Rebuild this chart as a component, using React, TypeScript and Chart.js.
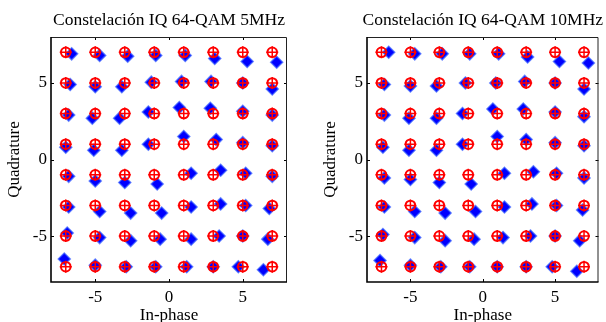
import React, { useEffect, useRef } from 'react';
import { Chart, registerables } from 'chart.js';
Chart.register(...registerables);

// Ideal 64-QAM levels (I columns, Q rows from top to bottom)
const levelsI = [-7, -5, -3, -1, 1, 3, 5, 7];
const levelsQ = [7, 5, 3, 1, -1, -3, -5, -7];
const xTicks = [-5, 0, 5];
const yTicks = [-5, 0, 5];

const title5 = 'Constelación IQ 64-QAM 5MHz';
const title10 = 'Constelación IQ 64-QAM 10MHz';
const xLabel = 'In-phase';
const yLabel = 'Quadrature';

// Offsets of received clusters from the ideal symbol (row-major: Q=7..-7, I=-7..7)
const offI5 = [
  0.4, 0.3, 0.2, 0.1, 0.1, 0.1, 0.3, 0.3,
  0.3, 0, -0.2, -0.2, -0.15, -0.15, 0, 0,
  0.2, -0.2, -0.35, -0.4, -0.3, -0.2, 0, 0,
  0, -0.1, -0.2, -0.4, 0, 0.2, 0, 0,
  0.2, 0, 0, 0.2, 0.5, 0.5, 0.2, 0,
  0.2, 0.3, 0.4, 0.5, 0.5, 0.5, 0.2, -0.2,
  0.1, 0.3, 0.4, 0.4, 0.5, 0.4, 0, -0.3,
  -0.1, 0, 0.1, 0.1, 0.2, 0, -0.3, -0.6,
];
const offQ5 = [
  -0.1, -0.2, -0.25, -0.2, -0.2, -0.4, -0.6, -0.65,
  -0.1, -0.25, -0.25, 0.05, 0.1, 0.1, 0, -0.4,
  -0.1, -0.3, -0.3, 0.1, 0.4, 0.35, 0.15, -0.1,
  -0.2, -0.4, -0.4, 0, 0.5, 0.3, 0.1, -0.1,
  -0.1, -0.4, -0.5, -0.6, 0.1, 0.3, 0.1, -0.1,
  -0.1, -0.4, -0.5, -0.5, -0.1, 0.1, 0, -0.2,
  0.2, -0.1, -0.3, -0.2, -0.2, 0, 0, -0.2,
  0.5, 0.1, 0, 0, 0, 0, 0, -0.2,
];
const offI10 = [
  0.5, 0.3, 0.2, 0.1, 0.1, 0.1, 0.3, 0.3,
  0.2, 0, -0.2, -0.2, -0.1, -0.1, 0, 0,
  0.2, -0.1, -0.2, -0.4, -0.3, -0.2, 0, 0,
  0.1, -0.1, -0.2, -0.4, 0, 0, 0, 0,
  0.2, 0, 0, 0.2, 0.5, 0.5, 0.1, 0,
  0.2, 0.3, 0.4, 0.5, 0.5, 0.4, 0.1, -0.1,
  0.1, 0.3, 0.4, 0.4, 0.4, 0.3, 0, -0.3,
  -0.1, 0, 0.1, 0.1, 0, 0, -0.2, -0.5,
];
const offQ10 = [
  0, -0.1, -0.1, -0.1, -0.1, -0.3, -0.6, -0.7,
  -0.1, -0.2, -0.2, 0, 0, 0.1, 0, -0.4,
  -0.1, -0.3, -0.3, 0, 0.3, 0.3, 0.1, -0.2,
  -0.2, -0.4, -0.4, 0, 0.5, 0.3, 0.1, -0.1,
  -0.2, -0.3, -0.5, -0.6, 0.1, 0.2, 0.1, -0.2,
  -0.1, -0.4, -0.5, -0.4, -0.1, 0.1, 0, -0.3,
  0.1, -0.1, -0.3, -0.2, -0.1, 0, 0, -0.3,
  0.4, 0.1, 0, 0, 0, 0, 0, -0.3,
];

const FONT = '"Liberation Serif", "Times New Roman", serif';

const framePlugin = {
  id: 'frame',
  afterDraw(chart: any, _args: any, opts: any) {
    const { ctx, chartArea: a, scales } = chart;
    ctx.save();
    ctx.strokeStyle = '#000';
    ctx.lineWidth = 1;
    ctx.beginPath();
    for (const v of xTicks) {
      const px = Math.round(scales.x.getPixelForValue(v)) + 0.5;
      ctx.moveTo(px, a.bottom);
      ctx.lineTo(px, a.bottom - 3);
      ctx.moveTo(px, a.top);
      ctx.lineTo(px, a.top + 3);
    }
    for (const v of yTicks) {
      const py = Math.round(scales.y.getPixelForValue(v)) + 0.5;
      ctx.moveTo(a.left, py);
      ctx.lineTo(a.left + 3, py);
      ctx.moveTo(a.right, py);
      ctx.lineTo(a.right - 3, py);
    }
    ctx.stroke();
    // top & right thin
    ctx.beginPath();
    ctx.strokeStyle = '#222';
    ctx.lineWidth = 1;
    ctx.moveTo(a.left, a.top + 0.5);
    ctx.lineTo(a.right - 0.5, a.top + 0.5);
    ctx.lineTo(a.right - 0.5, a.bottom);
    ctx.stroke();
    // left & bottom thicker
    ctx.beginPath();
    ctx.strokeStyle = '#000';
    ctx.lineWidth = 1.6;
    ctx.moveTo(a.left, a.top);
    ctx.lineTo(a.left, a.bottom);
    ctx.lineTo(a.right, a.bottom);
    ctx.stroke();
    // title
    ctx.fillStyle = '#000';
    ctx.font = `17.5px ${FONT}`;
    ctx.textAlign = 'center';
    ctx.textBaseline = 'alphabetic';
    ctx.fillText(opts.title, (a.left + a.right) / 2, 25);
    ctx.restore();
  },
};

type PanelProps = {
  left: number;
  title: string;
  offI: number[];
  offQ: number[];
  yAxisWidth: number;
  yTitlePad: number;
  padRight: number;
};

function Panel({ left, title, offI, offQ, yAxisWidth, yTitlePad, padRight }: PanelProps) {
  const ref = useRef<HTMLCanvasElement>(null);
  useEffect(() => {
    if (!ref.current) return;
    const ideal: { x: number; y: number }[] = [];
    const recv: { x: number; y: number }[] = [];
    levelsQ.forEach((q, r) => {
      levelsI.forEach((i, c) => {
        const k = r * 8 + c;
        ideal.push({ x: i, y: q });
        recv.push({ x: i + offI[k], y: q + offQ[k] });
      });
    });
    const chart = new Chart(ref.current, {
      type: 'scatter',
      data: {
        datasets: [
          {
            data: ideal,
            pointStyle: 'cross',
            pointRadius: 6,
            borderColor: '#ff0000',
            borderWidth: 1.5,
            backgroundColor: 'rgba(0,0,0,0)',
          },
          {
            data: ideal,
            pointStyle: 'circle',
            pointRadius: 4.8,
            borderColor: '#ff0000',
            borderWidth: 2,
            backgroundColor: 'rgba(0,0,0,0)',
          },
          {
            data: recv,
            pointStyle: 'rectRot',
            pointRadius: 6,
            borderColor: 'rgba(50,90,255,0.7)',
            borderWidth: 1.5,
            backgroundColor: '#0000ff',
          },
        ],
      },
      options: {
        animation: false,
        responsive: false,
        devicePixelRatio: 1,
        events: [],
        layout: { padding: { left: 0, right: padRight, top: 37, bottom: 0 } },
        plugins: {
          legend: { display: false },
          tooltip: { enabled: false },
          title: { display: false },
          frame: { title },
        } as any,
        scales: {
          x: {
            type: 'linear',
            min: -8,
            max: 8,
            afterBuildTicks: (s: any) => {
              s.ticks = xTicks.map((v) => ({ value: v }));
            },
            afterFit: (s: any) => {
              s.height = 48;
            },
            grid: { display: false, drawTicks: false },
            border: { display: false },
            ticks: {
              padding: 5,
              maxRotation: 0,
              autoSkip: false,
              color: '#000',
              font: { family: FONT, size: 17 },
              callback: (v: any) => String(v),
            },
            title: {
              display: true,
              text: xLabel,
              color: '#000',
              font: { family: FONT, size: 17 },
              padding: { top: 0, bottom: 4 },
            },
          },
          y: {
            type: 'linear',
            min: -8,
            max: 8,
            afterBuildTicks: (s: any) => {
              s.ticks = yTicks.map((v) => ({ value: v }));
            },
            afterFit: (s: any) => {
              s.width = yAxisWidth;
            },
            grid: { display: false, drawTicks: false },
            border: { display: false },
            ticks: {
              padding: 4,
              autoSkip: false,
              color: '#000',
              font: { family: FONT, size: 17 },
              callback: (v: any) => String(v),
            },
            title: {
              display: true,
              text: yLabel,
              color: '#000',
              font: { family: FONT, size: 17 },
              padding: { top: yTitlePad, bottom: 0 },
            },
          },
        },
      },
      plugins: [framePlugin],
    });
    return () => chart.destroy();
  }, []);
  return (
    <canvas
      ref={ref}
      width={303}
      height={330}
      style={{ position: 'absolute', left, top: 0, width: 303, height: 330 }}
    />
  );
}

export default function App() {
  return (
    <div
      style={{
        position: 'fixed',
        left: 0,
        top: 0,
        width: 606,
        height: 322,
        overflow: 'hidden',
        background: '#fff',
      }}
    >
      <Panel left={0} title={title5} offI={offI5} offQ={offQ5} yAxisWidth={51} yTitlePad={4} padRight={16} />
      <Panel left={303} title={title10} offI={offI10} offQ={offQ10} yAxisWidth={64} yTitlePad={17} padRight={1} />
    </div>
  );
}
